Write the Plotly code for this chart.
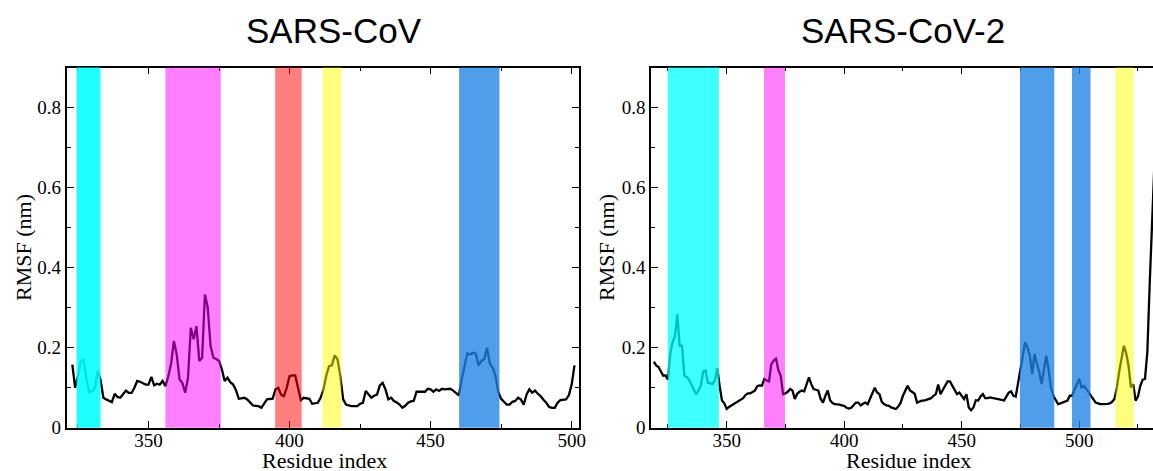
import plotly.graph_objects as go

# ---------------- data ----------------
cov1_res = list(range(323, 502))
cov1_rmsf = [
    0.158, 0.100, 0.130, 0.165, 0.171, 0.120, 0.089, 0.092, 0.100, 0.142,  # 323-332
    0.120, 0.075, 0.071, 0.068, 0.064, 0.085, 0.077, 0.075, 0.085, 0.093,  # 333-342
    0.087, 0.087, 0.100, 0.117, 0.115, 0.112, 0.108, 0.108, 0.127, 0.106,  # 343-352
    0.110, 0.108, 0.117, 0.104, 0.128, 0.160, 0.217, 0.183, 0.121, 0.112,  # 353-362
    0.0875, 0.125, 0.250, 0.221, 0.254, 0.167, 0.175, 0.333, 0.300, 0.204,  # 363-372
    0.175, 0.172, 0.167, 0.146, 0.117, 0.125, 0.114, 0.108, 0.094, 0.0725,  # 373-382
    0.074, 0.075, 0.071, 0.062, 0.056, 0.055, 0.054, 0.050, 0.060, 0.071,  # 383-392
    0.072, 0.0725, 0.096, 0.100, 0.083, 0.079, 0.100, 0.129, 0.131, 0.131,  # 393-402
    0.100, 0.069, 0.075, 0.074, 0.0725, 0.060, 0.061, 0.0625, 0.075, 0.095,  # 403-412
    0.130, 0.154, 0.156, 0.181, 0.171, 0.129, 0.071, 0.058, 0.056, 0.054,  # 413-422
    0.054, 0.054, 0.060, 0.0625, 0.092, 0.083, 0.075, 0.080, 0.083, 0.106,  # 423-432
    0.112, 0.096, 0.071, 0.075, 0.067, 0.063, 0.058, 0.050, 0.055, 0.0625,  # 433-442
    0.066, 0.067, 0.090, 0.090, 0.090, 0.090, 0.0975, 0.096, 0.090, 0.096,  # 443-452
    0.092, 0.0975, 0.096, 0.096, 0.0975, 0.093, 0.0875, 0.081, 0.120, 0.150,  # 453-462
    0.186, 0.183, 0.1875, 0.185, 0.156, 0.167, 0.171, 0.200, 0.160, 0.150,  # 463-472
    0.130, 0.089, 0.0725, 0.065, 0.058, 0.058, 0.065, 0.067, 0.075, 0.071,  # 473-482
    0.058, 0.083, 0.096, 0.0875, 0.093, 0.085, 0.079, 0.070, 0.0625, 0.052,  # 483-492
    0.050, 0.050, 0.0625, 0.069, 0.070, 0.071, 0.081, 0.108, 0.156,        # 493-501
]

cov2_res = list(range(319, 533))
cov2_rmsf = [
    0.165, 0.156, 0.152, 0.140, 0.130, 0.131, 0.120, 0.185, 0.214, 0.228,  # 319-328
    0.284, 0.205, 0.205, 0.130, 0.127, 0.120, 0.109, 0.097, 0.084, 0.093,  # 329-338
    0.105, 0.141, 0.143, 0.113, 0.110, 0.109, 0.119, 0.149, 0.105, 0.068,  # 339-348
    0.061, 0.047, 0.052, 0.056, 0.059, 0.062, 0.066, 0.070, 0.074, 0.082,  # 349-358
    0.086, 0.086, 0.090, 0.093, 0.104, 0.106, 0.105, 0.122, 0.118, 0.116,  # 359-368
    0.159, 0.168, 0.173, 0.144, 0.130, 0.084, 0.086, 0.090, 0.097, 0.093,  # 369-378
    0.072, 0.085, 0.090, 0.093, 0.091, 0.110, 0.126, 0.109, 0.097, 0.095,  # 379-388
    0.093, 0.072, 0.063, 0.080, 0.093, 0.069, 0.062, 0.059, 0.059, 0.058,  # 389-398
    0.056, 0.055, 0.050, 0.048, 0.050, 0.058, 0.063, 0.063, 0.056, 0.060,  # 399-408
    0.063, 0.059, 0.072, 0.085, 0.100, 0.088, 0.084, 0.065, 0.059, 0.056,  # 409-418
    0.055, 0.051, 0.049, 0.047, 0.053, 0.062, 0.080, 0.095, 0.105, 0.093,  # 419-428
    0.090, 0.085, 0.063, 0.066, 0.068, 0.068, 0.070, 0.072, 0.074, 0.080,  # 429-438
    0.084, 0.108, 0.084, 0.095, 0.105, 0.116, 0.116, 0.105, 0.093, 0.084,  # 439-448
    0.088, 0.080, 0.072, 0.084, 0.051, 0.044, 0.051, 0.069, 0.068, 0.078,  # 449-458
    0.084, 0.074, 0.074, 0.076, 0.075, 0.074, 0.073, 0.072, 0.070, 0.068,  # 459-468
    0.080, 0.088, 0.091, 0.080, 0.078, 0.110, 0.150, 0.180, 0.214, 0.200,  # 469-478
    0.180, 0.134, 0.184, 0.160, 0.140, 0.109, 0.150, 0.180, 0.145, 0.100,  # 479-488
    0.080, 0.070, 0.059, 0.061, 0.063, 0.065, 0.068, 0.080, 0.080, 0.095,  # 489-498
    0.110, 0.122, 0.101, 0.105, 0.097, 0.088, 0.078, 0.070, 0.063, 0.061,  # 499-508
    0.059, 0.059, 0.059, 0.060, 0.061, 0.065, 0.072, 0.100, 0.140, 0.168,  # 509-518
    0.205, 0.186, 0.155, 0.101, 0.109, 0.068, 0.078, 0.105, 0.120, 0.122,  # 519-528
    0.190, 0.360, 0.500, 0.660,                                            # 529-532
]

cov1_band_start = [324.5, 356.0, 394.9, 411.7, 460.1]
cov1_band_end = [333.0, 375.6, 404.3, 418.4, 474.4]
cov1_band_color = ["cyan", "magenta", "red", "yellow", "blue"]

cov2_band_start = [324.9, 365.9, 474.8, 496.9, 515.4]
cov2_band_end = [346.7, 374.8, 489.4, 504.8, 523.2]
cov2_band_color = ["cyan2", "magenta", "blue", "blue", "yellow"]

panel_titles = ["SARS-CoV", "SARS-CoV-2"]
x_title = "Residue index"
y_title = "RMSF (nm)"

# ---------------- style ----------------
band_rgba = {
    "cyan": "rgba(0,255,255,0.88)",
    "cyan2": "rgba(0,255,255,0.75)",
    "magenta": "rgba(255,0,255,0.5)",
    "red": "rgba(255,0,0,0.5)",
    "yellow": "rgba(255,255,0,0.5)",
    "blue": "rgba(30,130,230,0.78)",
}

W, H = 1153, 471
L1, R1 = 66.7, 579.0
L2, R2 = 651.0, 1153.0
TOP, BOT = 67.5, 427.8

def px(x):
    return x / W

def py(y):
    return 1 - y / H

fig = go.Figure()
fig.add_trace(go.Scatter(x=cov1_res, y=cov1_rmsf, mode="lines",
                         line=dict(color="black", width=2.3), xaxis="x", yaxis="y",
                         showlegend=False, hoverinfo="skip"))
fig.add_trace(go.Scatter(x=cov2_res, y=cov2_rmsf, mode="lines",
                         line=dict(color="black", width=2.3), xaxis="x2", yaxis="y2",
                         showlegend=False, hoverinfo="skip"))

for s, e, c in zip(cov1_band_start, cov1_band_end, cov1_band_color):
    fig.add_shape(type="rect", xref="x", yref="y domain", x0=s, x1=e, y0=0, y1=1,
                  fillcolor=band_rgba[c], line_width=0, layer="above")
for s, e, c in zip(cov2_band_start, cov2_band_end, cov2_band_color):
    fig.add_shape(type="rect", xref="x2", yref="y2 domain", x0=s, x1=e, y0=0, y1=1,
                  fillcolor=band_rgba[c], line_width=0, layer="above")

tickfont = dict(family="Liberation Serif", size=19, color="black")
minor_x = dict(dtick=25, tick0=0, ticks="inside", ticklen=4, tickcolor="black", tickwidth=1.2)
minor_y = dict(dtick=0.1, tick0=0, ticks="inside", ticklen=4, tickcolor="black", tickwidth=1.2)

def axis(**kw):
    d = dict(showgrid=False, zeroline=False, showline=True, linecolor="black",
             linewidth=1.6, ticks="inside", ticklen=7, tickwidth=1.3, tickcolor="black",
             tickfont=tickfont, automargin=False)
    d.update(kw)
    return d

ydom = [py(BOT), py(TOP)]
fig.update_layout(
    width=W, height=H, margin=dict(l=0, r=0, t=0, b=0, pad=0),
    font=dict(family="Liberation Serif", size=19, color="black"),
    paper_bgcolor="white", plot_bgcolor="white",
    xaxis=axis(domain=[px(L1), px(R1)], range=[321.0, 502.6], dtick=50, tick0=0,
               mirror="allticks", anchor="y", minor=minor_x, ticklabelstandoff=-5),
    yaxis=axis(domain=ydom, range=[0, 0.9], dtick=0.2, tick0=0,
               mirror="allticks", anchor="x", minor=minor_y),
    xaxis2=axis(domain=[px(L2), px(R2)], range=[317.8, 531.4], dtick=50, tick0=0,
                mirror="allticks", anchor="y2", minor=minor_x, ticklabelstandoff=-5),
    yaxis2=axis(domain=ydom, range=[0, 0.9], dtick=0.2, tick0=0,
                mirror=False, anchor="x2", minor=minor_y),
)

# panel titles
for txt, xc in zip(panel_titles, (333.5, 902.5)):
    fig.add_annotation(text=txt, xref="paper", yref="paper", x=px(xc), y=py(31),
                       xanchor="center", yanchor="middle", showarrow=False,
                       font=dict(family="Liberation Sans", size=35, color="black"))

# axis titles
titlefont = dict(family="Liberation Serif", size=22, color="black")
for xc in (324, 908):
    fig.add_annotation(text=x_title, xref="paper", yref="paper", x=px(xc), y=py(460),
                       xanchor="center", yanchor="middle", showarrow=False, font=titlefont)
for xc in (23, 606):
    fig.add_annotation(text=y_title, xref="paper", yref="paper", x=px(xc), y=py(248),
                       xanchor="center", yanchor="middle", showarrow=False, textangle=-90,
                       font=titlefont)

fig.write_html("out.html", config={"displayModeBar": False},
               post_script="document.body.style.margin='0';document.body.style.overflow='hidden';")
